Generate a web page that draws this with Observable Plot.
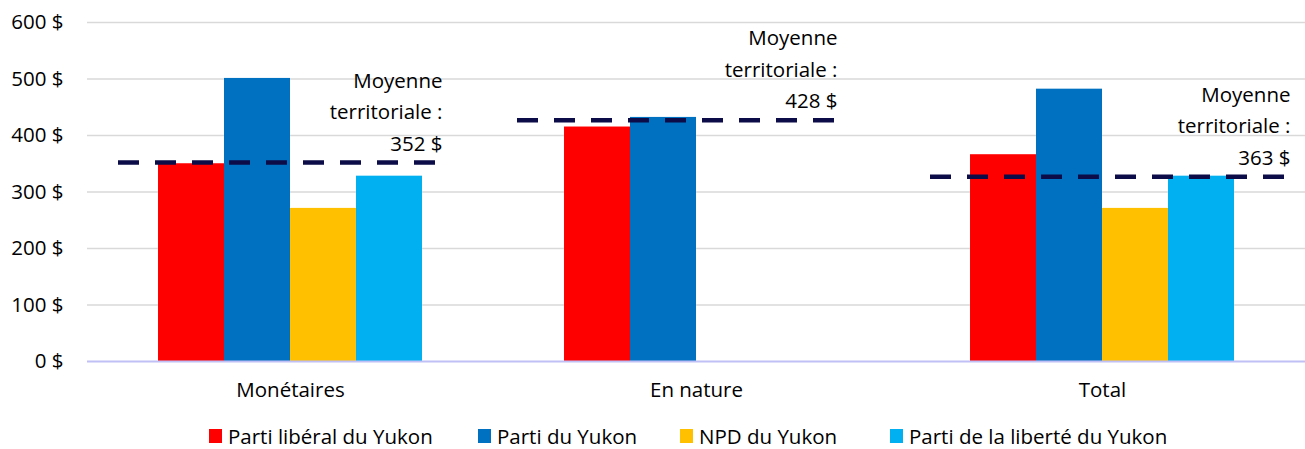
<!DOCTYPE html>
<html><head><meta charset="utf-8">
<script src="https://cdn.jsdelivr.net/npm/d3@7"></script>
<script src="https://cdn.jsdelivr.net/npm/@observablehq/plot@0.6"></script>
<style>
body{margin:0;background:#fff;font-family:"Open Sans",sans-serif;}
#legend{position:relative;height:34px;font-size:20.5px;color:#000;}
.item{position:absolute;top:4px;height:34px;display:flex;align-items:center;white-space:nowrap;}
.sw{width:13px;height:14px;margin-right:6px;}
</style></head><body>
<div id="chart"></div>
<div id="legend"></div>
<script>
const categories = ["Monétaires", "En nature", "Total"];
const parties = ["Parti libéral du Yukon", "Parti du Yukon", "NPD du Yukon", "Parti de la liberté du Yukon"];
const colors = ["#FF0000", "#0070C0", "#FFC000", "#00B0F0"];
const liberal = [350, 415, 366];
const yukonParty = [501, 432, 482];
const npd = [271, null, 271];
const liberte = [328, null, 328];
const avgLine = [352, 427, 327];
const avgLabel = ["Moyenne\nterritoriale :\n352 $", "Moyenne\nterritoriale :\n428 $", "Moyenne\nterritoriale :\n363 $"];
const yTicks = [0, 100, 200, 300, 400, 500, 600];

const series = [liberal, yukonParty, npd, liberte];
const rows = [];
categories.forEach((c, i) => series.forEach((s, j) => {
  if (s[i] != null) rows.push({category: c, party: parties[j], value: s[i]});
}));
const avgs = categories.map((c, i) => ({category: c, value: avgLine[i], label: avgLabel[i]}));

const FS = 20.5;
const insets = [[31, 55, -51], [24, 62, -62], [31, 17, -15]];
const avgMarks = [];
avgs.forEach((a, i) => {
  avgMarks.push(Plot.ruleY([a], {fx: "category", y: "value", stroke: "#0c0c48", strokeWidth: 4.5,
    strokeDasharray: "21,16", insetLeft: insets[i][0], insetRight: insets[i][1]}));
  avgMarks.push(Plot.text([a], {fx: "category", y: "value", text: "label", frameAnchor: "right",
    dx: insets[i][2], dy: -12, lineAnchor: "bottom", textAnchor: "end", lineHeight: 31.5 / FS, fontSize: FS, fill: "#000"}));
});

const chart = Plot.plot({
  width: 1305, height: 415,
  marginLeft: 87, marginRight: 0, marginTop: 22, marginBottom: 54,
  style: {fontFamily: "'Open Sans', sans-serif", fontSize: FS + "px", color: "#000", background: "#fff"},
  fx: {domain: categories, padding: 0, label: null, axis: null},
  x: {domain: parties, paddingInner: 0, paddingOuter: 1.076, round: false, axis: null},
  y: {domain: [0, 600], label: null},
  color: {domain: parties, range: colors},
  marks: [
    Plot.ruleY(yTicks.filter(d => d > 0), {stroke: "#d9d9d9", strokeWidth: 1.5}),
    Plot.barY(rows, {fx: "category", x: "party", y: "value", fill: "party"}),
    Plot.ruleY([0], {stroke: "#c0c0f6", strokeWidth: 2}),
    Plot.axisY({ticks: yTicks, tickSize: 0, tickPadding: 24, tickFormat: d => d + " $", label: null, fontSize: FS}),
    Plot.axisFx({anchor: "bottom", tickSize: 0, tickPadding: 21, label: null, fontSize: FS}),
    ...avgMarks
  ]
});
document.getElementById("chart").appendChild(chart);

const legend = document.getElementById("legend");
const legendLeft = [209, 478, 680, 890];
parties.forEach((p, i) => {
  const it = document.createElement("div"); it.className = "item"; it.style.left = legendLeft[i] + "px";
  const sw = document.createElement("div"); sw.className = "sw"; sw.style.background = colors[i];
  const t = document.createElement("span"); t.textContent = p;
  it.appendChild(sw); it.appendChild(t); legend.appendChild(it);
});
</script></body></html>
